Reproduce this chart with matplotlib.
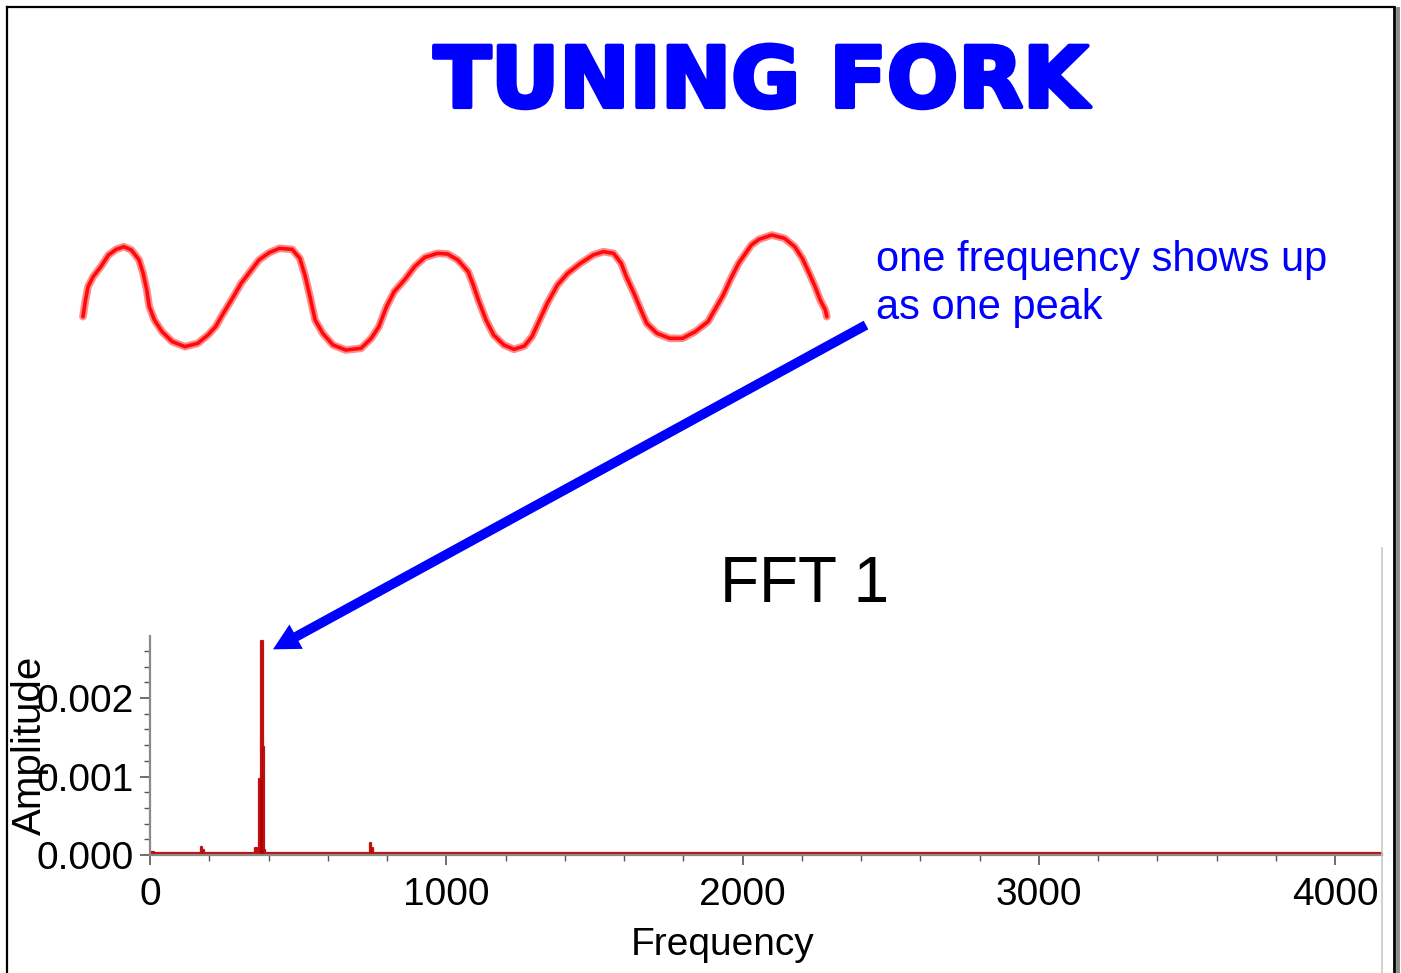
import matplotlib
matplotlib.use("Agg")
import matplotlib.pyplot as plt
from matplotlib.lines import Line2D
from matplotlib.ticker import MultipleLocator, FormatStrFormatter
import matplotlib.patheffects as pe

plt.rcParams['font.family'] = ['Liberation Sans', 'DejaVu Sans']

# hand-drawn sine sketch (sketch units, y grows downward)
wave_x = [45, 50, 55, 65, 80, 95, 110, 125, 140, 155, 163, 170, 175, 185, 200, 220, 245, 270,
          290, 305, 320, 340, 355, 370, 390, 410, 430, 455, 470, 480, 490, 500, 515, 535, 560,
          590, 610, 625, 640, 655, 675, 695, 715, 740, 760, 780, 800, 810, 820, 835, 850, 870,
          890, 910, 925, 940, 955, 975, 995, 1020, 1045, 1065, 1085, 1100, 1110, 1125, 1140,
          1150, 1170, 1195, 1220, 1245, 1270, 1285, 1300, 1315, 1330, 1355, 1370, 1395, 1420,
          1440, 1455, 1470, 1480, 1490, 1500, 1503]
wave_y = [290, 240, 200, 170, 140, 105, 88, 80, 90, 120, 160, 210, 260, 300, 335, 365, 380, 370,
          345, 320, 280, 230, 190, 160, 120, 98, 85, 88, 115, 165, 230, 300, 340, 375, 390,
          385, 355, 320, 260, 215, 180, 140, 112, 100, 102, 120, 155, 195, 240, 300, 345, 375,
          388, 378, 350, 300, 250, 195, 160, 130, 105, 95, 100, 130, 170, 220, 275,
          310, 340, 355, 355, 335, 305, 265, 225, 175, 130, 75, 58, 45, 55,
          80, 115, 165, 200, 240, 270, 290]

# FFT spectrum
freq = [0, 8, 20, 100, 160, 168, 174, 180, 186, 192, 350, 356, 360, 365, 370, 374, 378, 382,
        386, 390, 400, 740, 745, 750, 755, 760, 1000, 2000, 3000, 4000, 4160]
amp = [0.00004, 0.00004, 0.00002, 0.00002, 0.00002, 0.00002, 0.00010, 0.00006, 0.00002, 0.00002,
       0.00002, 0.00009, 0.00009, 0.00003, 0.00097, 0.00097, 0.00273, 0.00138, 0.00006, 0.00002,
       0.00002, 0.00002, 0.00015, 0.00009, 0.00002, 0.00002, 0.00002, 0.00002, 0.00002, 0.00002,
       0.00002]

W, H = 1401, 973
fig = plt.figure(figsize=(W / 100, H / 100), dpi=100)


def fx(x):
    return x / W


def fy(y):
    return 1 - y / H


# page frame
for xs, ys, c, lw in [([7, 7], [7, 973], 'black', 1.6),
                      ([7, 1394], [7, 7], 'black', 1.6),
                      ([1394, 1394], [7, 973], 'black', 2.0),
                      ([1398, 1398], [9, 973], '#8c8c8c', 2.8),
                      ([1382, 1382], [548, 973], '#c4c4c4', 1.1)]:
    fig.add_artist(Line2D([fx(v) for v in xs], [fy(v) for v in ys], color=c, lw=lw))

fig.text(fx(761), fy(107), 'TUNING FORK', color='#0000ff', fontsize=60.5, fontweight='bold',
         family='DejaVu Sans', ha='center', va='baseline',
         path_effects=[pe.withStroke(linewidth=3, foreground='#0000ff')])

# wave sketch
axw = fig.add_axes([fx(60), fy(370), fx(800), 150 / H])
axw.plot(wave_x, wave_y, color='#ff8c8c', lw=5.5, solid_capstyle='round', solid_joinstyle='round')
axw.plot(wave_x, wave_y, color='#ff0a0a', lw=2.6, solid_capstyle='round', solid_joinstyle='round')
axw.set_xlim(0, 1568)
axw.set_ylim(450, 0)
axw.axis('off')

fig.text(fx(876), fy(271), 'one frequency shows up', color='#0000ff', fontsize=30, va='baseline')
fig.text(fx(876), fy(319), 'as one peak', color='#0000ff', fontsize=30, va='baseline')

fig.text(fx(805), fy(602), 'FFT 1', color='black', fontsize=46, ha='center', va='baseline')

# spectrum axes
ax = fig.add_axes([fx(150), fy(855), (1382 - 150) / W, (855 - 636) / H])
ax.fill_between(freq, amp, step='mid', color='#b00000', lw=0)
ax.plot(freq, amp, drawstyle='steps-mid', color='#c01010', lw=1.6)
ax.set_xlim(0, 4158)
ax.set_ylim(0, 0.00279)
ax.xaxis.set_major_locator(MultipleLocator(1000))
ax.xaxis.set_minor_locator(MultipleLocator(200))
ax.yaxis.set_major_locator(MultipleLocator(0.001))
ax.yaxis.set_minor_locator(MultipleLocator(0.0002))
ax.yaxis.set_major_formatter(FormatStrFormatter('%.3f'))
ax.tick_params(which='major', length=7.5, width=1.2, color='#555555', labelsize=28)
ax.tick_params(axis='x', which='major', pad=8)
ax.tick_params(axis='y', which='major', pad=4)
ax.tick_params(which='minor', length=4, width=1.0, color='#555555')
for s in ['top', 'right']:
    ax.spines[s].set_visible(False)
for s in ['left', 'bottom']:
    ax.spines[s].set_color('#8a8a8a')
    ax.spines[s].set_linewidth(1.6)
ax.patch.set_alpha(0)

ax.annotate('', xy=(415, 0.00262), xycoords='data',
            xytext=(866, H - 325), textcoords='figure pixels',
            arrowprops=dict(width=7, headwidth=20, headlength=19, shrink=0,
                            color='#0000ff', lw=0),
            annotation_clip=False)

fig.text(fx(30), fy(745), 'Amplitude', fontsize=29, rotation=90, ha='center', va='center')
fig.text(fx(723), fy(955), 'Frequency', fontsize=28, ha='center', va='baseline')

fig.savefig('out.png', dpi=100)
